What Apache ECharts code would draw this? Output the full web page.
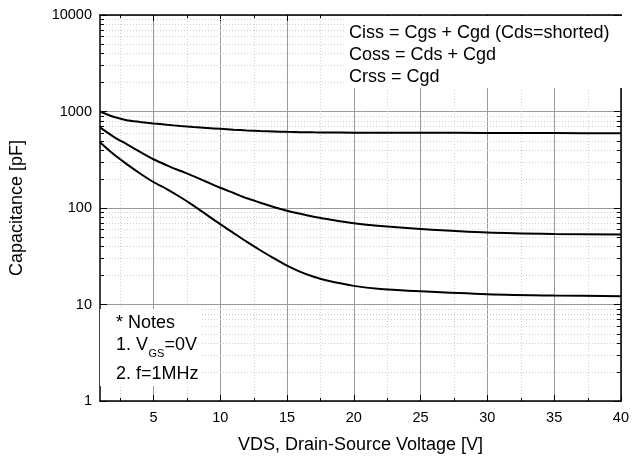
<!DOCTYPE html>
<html>
<head>
<meta charset="utf-8">
<script src="https://cdn.jsdelivr.net/npm/echarts@6/dist/echarts.min.js"></script>
<style>
  html, body { margin: 0; padding: 0; background: #fff; }
  #chart { width: 632px; height: 459px; }
</style>
</head>
<body>
<div id="chart"></div>
<script>
// ---- data ----
const vds  = [1, 2, 3, 4, 5, 6, 7, 8, 9, 10, 11, 12, 13, 14, 15, 16, 17, 18, 20, 22, 25, 30, 35, 40];
const ciss = [1000, 881, 813, 780, 753, 729, 708, 690, 675, 661, 648, 637, 628, 621, 615, 611, 608, 607, 604, 603, 601, 600, 597, 594];
const coss = [684, 550, 458, 382, 320, 277, 243, 214, 186, 162, 143, 126, 113.5, 102.3, 93.8, 87, 81.3, 76.9, 69.5, 64.9, 60.5, 55.6, 53.8, 53.2];
const crss = [480, 362, 285, 228, 186, 157, 130, 106, 85, 68, 55, 44.5, 36.5, 30.2, 25.3, 21.8, 19.4, 17.7, 15.6, 14.5, 13.7, 12.8, 12.4, 12.2];

const xMajorTicks = [5, 10, 15, 20, 25, 30, 35, 40];
const xMinorTicks = [2.5, 7.5, 12.5, 17.5, 22.5, 27.5, 32.5, 37.5];
const yMinorTicks = [2,3,4,5,6,7,8,9, 20,30,40,50,60,70,80,90, 200,300,400,500,600,700,800,900, 2000,3000,4000,5000,6000,7000,8000,9000];

const legendLines = ['Ciss = Cgs + Cgd (Cds=shorted)', 'Coss = Cds + Cgd', 'Crss = Cgd'];

const FONT = 'Liberation Sans, Arial, Helvetica, sans-serif';

const chart = echarts.init(document.getElementById('chart'), null, { renderer: 'canvas' });

function pairs(ys) { return vds.map((x, i) => [x, ys[i]]); }

const curveStyle = { color: '#000', width: 2 };
function curve(name, ys) {
  return {
    name, type: 'line', data: pairs(ys), xAxisIndex: 0, yAxisIndex: 0,
    showSymbol: false, symbol: 'none', smooth: 0.3,
    lineStyle: curveStyle, z: 5, silent: true
  };
}

const option = {
  animation: false,
  backgroundColor: '#fff',
  textStyle: { fontFamily: FONT },
  grid: { left: 99, right: 9, top: 15, bottom: 55, containLabel: false },
  xAxis: [
    {
      type: 'value', position: 'bottom', min: 1, max: 40,
      name: 'VDS, Drain-Source Voltage [V]', nameLocation: 'middle', nameGap: 35,
      nameTextStyle: { fontSize: 18, color: '#000', fontFamily: FONT },
      axisLine: { show: true, onZero: false, lineStyle: { color: '#000', width: 1.5 } },
      axisTick: { show: true, inside: true, length: 6, customValues: xMajorTicks, lineStyle: { color: '#000', width: 1 } },
      axisLabel: { show: true, customValues: xMajorTicks, fontSize: 14.5, color: '#000', margin: 9, fontFamily: FONT },
      splitLine: { show: true, lineStyle: { color: '#9a9a9a', width: 1 } }
    },
    {
      type: 'value', position: 'top', min: 1, max: 40,
      axisLine: { show: true, onZero: false, lineStyle: { color: '#000', width: 1.5 } },
      axisTick: { show: true, inside: true, length: 6, customValues: xMajorTicks, lineStyle: { color: '#000', width: 1 } },
      axisLabel: { show: false },
      splitLine: { show: false }
    }
  ],
  yAxis: [
    {
      type: 'log', logBase: 10, position: 'left', min: 1, max: 10000,
      name: 'Capacitance [pF]', nameLocation: 'middle', nameGap: 74,
      nameTextStyle: { fontSize: 18, color: '#000', fontFamily: FONT },
      axisLine: { show: true, onZero: false, lineStyle: { color: '#000', width: 1.5 } },
      axisTick: { show: true, inside: true, length: 7, lineStyle: { color: '#000', width: 1 } },
      axisLabel: { show: true, fontSize: 14.5, color: '#000', margin: 8, fontFamily: FONT,
        formatter: function (v) { return String(Math.round(v)); } },
      splitLine: { show: true, lineStyle: { color: '#9a9a9a', width: 1 } },
      minorTick: { show: false }, minorSplitLine: { show: false }
    },
    {
      type: 'log', logBase: 10, position: 'right', min: 1, max: 10000,
      axisLine: { show: true, onZero: false, lineStyle: { color: '#000', width: 1.5 } },
      axisTick: { show: true, inside: true, length: 7, lineStyle: { color: '#000', width: 1 } },
      axisLabel: { show: false },
      splitLine: { show: false }
    }
  ],
  series: [
    {
      name: 'xMinor', type: 'custom', xAxisIndex: 0, yAxisIndex: 0, z: 1, silent: true,
      data: xMinorTicks.map(v => [v, 1]),
      renderItem: function (params, api) {
        const cs = params.coordSys;
        const x = Math.round(api.coord([api.value(0), 1])[0]) + 0.5;
        const top = cs.y, bot = cs.y + cs.height;
        return { type: 'group', children: [
          { type: 'line', shape: { x1: x, y1: top, x2: x, y2: bot }, style: { stroke: '#cfcfcf', lineWidth: 1, lineDash: [1, 2] } },
          { type: 'line', shape: { x1: x, y1: bot, x2: x, y2: bot - 3 }, style: { stroke: '#000', lineWidth: 1 } },
          { type: 'line', shape: { x1: x, y1: top, x2: x, y2: top + 3 }, style: { stroke: '#000', lineWidth: 1 } }
        ]};
      }
    },
    {
      name: 'yMinor', type: 'custom', xAxisIndex: 0, yAxisIndex: 0, z: 1, silent: true,
      data: yMinorTicks.map(v => [1, v]),
      renderItem: function (params, api) {
        const cs = params.coordSys;
        const y = Math.round(api.coord([1, api.value(1)])[1]) + 0.5;
        const l = cs.x, r = cs.x + cs.width;
        return { type: 'group', children: [
          { type: 'line', shape: { x1: l, y1: y, x2: r, y2: y }, style: { stroke: '#cfcfcf', lineWidth: 1, lineDash: [1, 2] } },
          { type: 'line', shape: { x1: l, y1: y, x2: l + 4, y2: y }, style: { stroke: '#000', lineWidth: 1 } },
          { type: 'line', shape: { x1: r, y1: y, x2: r - 4, y2: y }, style: { stroke: '#000', lineWidth: 1 } }
        ]};
      }
    },
    curve('Ciss', ciss),
    curve('Coss', coss),
    curve('Crss', crss)
  ],
  graphic: [
    { type: 'rect', z: 100, shape: { x: 345, y: 16, width: 277, height: 72 }, style: { fill: '#fff' }, silent: true },
    { type: 'text', z: 101, x: 349, y: 33, style: { text: legendLines[0], font: '18px ' + FONT, fill: '#000', verticalAlign: 'middle' } },
    { type: 'text', z: 101, x: 349, y: 55, style: { text: legendLines[1], font: '18px ' + FONT, fill: '#000', verticalAlign: 'middle' } },
    { type: 'text', z: 101, x: 349, y: 77, style: { text: legendLines[2], font: '18px ' + FONT, fill: '#000', verticalAlign: 'middle' } },
    { type: 'rect', z: 100, shape: { x: 100, y: 309, width: 101, height: 77 }, style: { fill: '#fff' }, silent: true },
    { type: 'text', z: 101, x: 116, y: 323, style: { text: '* Notes', font: '18px ' + FONT, fill: '#000', verticalAlign: 'middle' } },
    { type: 'text', z: 101, x: 116, y: 345.5, style: { text: '1. V', font: '18px ' + FONT, fill: '#000', verticalAlign: 'middle' } },
    { type: 'text', z: 101, x: 148.5, y: 354, style: { text: 'GS', font: '11px ' + FONT, fill: '#000', verticalAlign: 'middle' } },
    { type: 'text', z: 101, x: 164.5, y: 345.5, style: { text: '=0V', font: '18px ' + FONT, fill: '#000', verticalAlign: 'middle' } },
    { type: 'text', z: 101, x: 116, y: 374.5, style: { text: '2. f=1MHz', font: '18px ' + FONT, fill: '#000', verticalAlign: 'middle' } }
  ]
};

chart.setOption(option);
</script>
</body>
</html>
